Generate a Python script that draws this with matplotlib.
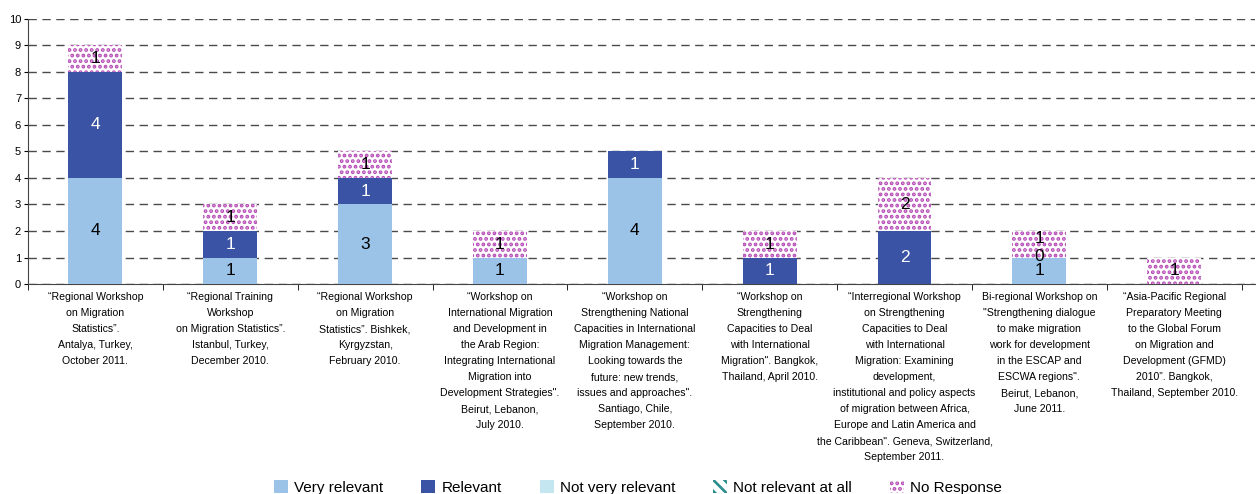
import numpy as np
import matplotlib.pyplot as plt
from matplotlib.patches import Patch

plt.rcParams['font.family'] = ['Liberation Sans', 'DejaVu Sans']
plt.rcParams['hatch.linewidth'] = 1.9

events = [
    '\u201cRegional Workshop\non Migration\nStatistics\u201d.\nAntalya, Turkey,\nOctober 2011.',
    '\u201cRegional Training\nWorkshop\non Migration Statistics\u201d.\nIstanbul, Turkey,\nDecember 2010.',
    '\u201cRegional Workshop\non Migration\nStatistics\u201d. Bishkek,\nKyrgyzstan,\nFebruary 2010.',
    '\u201cWorkshop on\nInternational Migration\nand Development in\nthe Arab Region:\nIntegrating International\nMigration into\nDevelopment Strategies".\nBeirut, Lebanon,\nJuly 2010.',
    '\u201cWorkshop on\nStrengthening National\nCapacities in International\nMigration Management:\nLooking towards the\nfuture: new trends,\nissues and approaches".\nSantiago, Chile,\nSeptember 2010.',
    '\u201cWorkshop on\nStrengthening\nCapacities to Deal\nwith International\nMigration". Bangkok,\nThailand, April 2010.',
    '\u201cInterregional Workshop\non Strengthening\nCapacities to Deal\nwith International\nMigration: Examining\ndevelopment,\ninstitutional and policy aspects\nof migration between Africa,\nEurope and Latin America and\nthe Caribbean". Geneva, Switzerland,\nSeptember 2011.',
    'Bi-regional Workshop on\n"Strengthening dialogue\nto make migration\nwork for development\nin the ESCAP and\nESCWA regions".\nBeirut, Lebanon,\nJune 2011.',
    '\u201cAsia-Pacific Regional\nPreparatory Meeting\nto the Global Forum\non Migration and\nDevelopment (GFMD)\n2010\u201d. Bangkok,\nThailand, September 2010.',
]

very_relevant = [4, 1, 3, 1, 4, 0, 0, 1, 0]
relevant = [4, 1, 1, 0, 1, 1, 2, 0, 0]
not_very_relevant = [0, 0, 0, 0, 0, 0, 0, 0, 0]
not_relevant_at_all = [0, 0, 0, 0, 0, 0, 0, 0, 0]
no_response = [1, 1, 1, 1, 0, 1, 2, 1, 1]

c_very = '#9ac3e7'
c_rel = '#3a53a4'
c_notvery = '#c3e6f0'
c_notatall = '#2a8c8c'
c_nores = '#b64db6'

fig = plt.figure(figsize=(12.56, 4.94), dpi=100)
ax = fig.add_axes([0.0223, 0.425, 0.977, 0.537])

x = np.arange(len(events))
w = 0.4
vr = np.array(very_relevant)
rl = np.array(relevant)
nv = np.array(not_very_relevant)
na = np.array(not_relevant_at_all)
nr = np.array(no_response)

ax.bar(x, vr, w, color=c_very, zorder=3)
ax.bar(x, rl, w, bottom=vr, color=c_rel, zorder=3)
ax.bar(x, nv, w, bottom=vr + rl, color=c_notvery, zorder=3)
ax.bar(x, na, w, bottom=vr + rl + nv, color='white', zorder=3)
ax.bar(x, nr, w, bottom=vr + rl + nv + na, color='white', edgecolor=c_nores,
       hatch='...', linewidth=0, zorder=3)

# value labels
for i in range(len(events)):
    if vr[i] > 0:
        ax.text(x[i], vr[i] / 2, str(vr[i]), ha='center', va='center', fontsize=12.5, zorder=5)
    if rl[i] > 0:
        ax.text(x[i], vr[i] + rl[i] / 2, str(rl[i]), ha='center', va='center',
                fontsize=12.5, color='white', zorder=5)
    if nr[i] > 0:
        top = vr[i] + rl[i] + nv[i] + na[i]
        shift = 0.22 if i == 7 else 0
        ax.text(x[i], top + nr[i] / 2 + shift, str(nr[i]), ha='center', va='center',
                fontsize=12.5, zorder=5)
# zero label shown on the bi-regional bar
ax.text(x[7], vr[7] + 0.05, str(rl[7]), ha='center', va='center', fontsize=12.5, zorder=5)

ax.set_xlim(-0.5, len(events) - 0.5 + 0.1)
ax.set_ylim(0, 10)
ax.set_yticks(range(0, 11))
ax.tick_params(axis='y', labelsize=8, length=3, pad=2)
ax.yaxis.grid(True, linestyle=(0, (6, 4)), color='#4a4a4a', linewidth=1)
ax.set_axisbelow(True)

ax.set_xticks(x)
ax.set_xticklabels(events, fontsize=7.6, linespacing=1.75)
ax.tick_params(axis='x', length=0, pad=6)
ax.set_xticks(np.arange(-0.5, len(events)), minor=True)
ax.tick_params(axis='x', which='minor', length=4, direction='out')

for s in ['top', 'right']:
    ax.spines[s].set_visible(False)
ax.spines['left'].set_color('#444444')
ax.spines['bottom'].set_color('#444444')

handles = [
    Patch(facecolor=c_very, label='Very relevant'),
    Patch(facecolor=c_rel, label='Relevant'),
    Patch(facecolor=c_notvery, label='Not very relevant'),
    Patch(facecolor='white', edgecolor=c_notatall, hatch='\\\\\\', linewidth=0, label='Not relevant at all'),
    Patch(facecolor='white', edgecolor=c_nores, hatch='...', linewidth=0, label='No Response'),
]
fig.legend(handles=handles, loc='lower center', bbox_to_anchor=(0.508, -0.03), ncol=5,
           frameon=False, fontsize=11, handlelength=0.9, handleheight=0.9,
           handletextpad=0.4, columnspacing=2.5)

fig.savefig('out.png', dpi=100)
